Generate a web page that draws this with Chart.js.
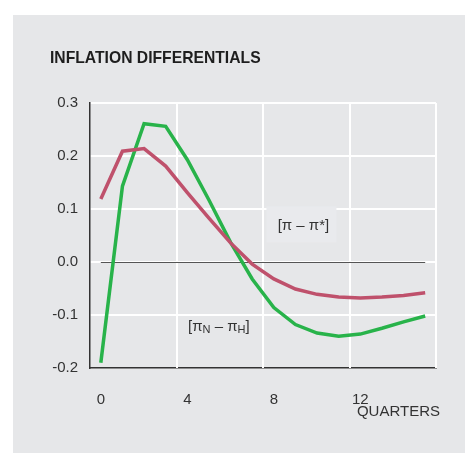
<!DOCTYPE html>
<html>
<head>
<meta charset="utf-8">
<script src="https://cdn.jsdelivr.net/npm/chart.js@4"></script>
<style>
  html, body { margin: 0; padding: 0; background: #ffffff; }
  canvas { display: block; }
</style>
</head>
<body>
<canvas id="chart" width="465" height="453"></canvas>
<script>
  // quarters after the shock
  const quarters = [0, 1, 2, 3, 4, 5, 6, 7, 8, 9, 10, 11, 12, 13, 14, 15];
  // [pi - pi*]
  const piDiff = [0.119, 0.209, 0.214, 0.181, 0.131, 0.083, 0.036, -0.004, -0.032, -0.051, -0.061, -0.066, -0.068, -0.066, -0.063, -0.058];
  // [pi_N - pi_H]
  const piNH = [-0.19, 0.143, 0.261, 0.256, 0.193, 0.117, 0.037, -0.032, -0.086, -0.118, -0.134, -0.14, -0.136, -0.125, -0.113, -0.102];
  const xTicks = [0, 4, 8, 12];
  const xGrid = [3.5, 7.5, 11.5, 15.5];

  const FONT = "'Liberation Sans', Arial, sans-serif";

  function toPoints(values) {
    return values.map((v, i) => ({ x: quarters[i], y: v }));
  }

  // gray panel, vertical grid, zero line, label box
  const decorations = {
    id: 'decorations',
    beforeDraw(chart) {
      const ctx = chart.ctx;
      ctx.save();
      ctx.fillStyle = '#e6e7e9';
      ctx.fillRect(13, 15, chart.width - 13, chart.height - 15);
      ctx.restore();
    },
    beforeDatasetsDraw(chart) {
      const ctx = chart.ctx;
      const x = chart.scales.x, y = chart.scales.y;
      const area = chart.chartArea;
      ctx.save();
      ctx.strokeStyle = '#ffffff';
      ctx.lineWidth = 2;
      xGrid.forEach(v => {
        const px = Math.round(x.getPixelForValue(v));
        ctx.beginPath();
        ctx.moveTo(px, area.top);
        ctx.lineTo(px, area.bottom);
        ctx.stroke();
      });
      // zero line from first to last quarter
      ctx.strokeStyle = '#555555';
      ctx.lineWidth = 1.2;
      const y0 = Math.round(y.getPixelForValue(0)) + 0.5;
      ctx.beginPath();
      ctx.moveTo(x.getPixelForValue(quarters[0]), y0);
      ctx.lineTo(x.getPixelForValue(quarters[quarters.length - 1]), y0);
      ctx.stroke();
      // light box behind the [pi - pi*] label
      const cx = x.getPixelForValue(9.37), cy = y.getPixelForValue(0.069);
      ctx.fillStyle = '#e9eaed';
      ctx.fillRect(cx - 37, cy - 19, 70, 36);
      ctx.restore();
    },
    afterDraw(chart) {
      const ctx = chart.ctx;
      const x = chart.scales.x, y = chart.scales.y;
      ctx.save();
      ctx.textBaseline = 'middle';
      // title
      ctx.fillStyle = '#1e1e1e';
      ctx.font = 'bold 15.7px ' + FONT;
      ctx.textAlign = 'left';
      ctx.fillText('INFLATION DIFFERENTIALS', 50, 59);
      // axis name
      ctx.fillStyle = '#333333';
      ctx.font = '15px ' + FONT;
      ctx.textAlign = 'right';
      ctx.fillText('QUARTERS', 440, 412);
      // series labels
      ctx.textAlign = 'center';
      ctx.fillText('[\u03c0 \u2013 \u03c0*]', x.getPixelForValue(9.37), y.getPixelForValue(0.069));
      let lx = 188;
      const ly = y.getPixelForValue(-0.123);
      ctx.textAlign = 'left';
      const parts = [
        ['[\u03c0', 15, 0], ['N', 11, 3], [' \u2013 \u03c0', 15, 0], ['H', 11, 3], [']', 15, 0]
      ];
      parts.forEach(p => {
        ctx.font = p[1] + 'px ' + FONT;
        ctx.fillText(p[0], lx, ly + p[2]);
        lx += ctx.measureText(p[0]).width;
      });
      ctx.restore();
    }
  };

  new Chart(document.getElementById('chart'), {
    type: 'line',
    data: {
      datasets: [
        {
          label: '[\u03c0 - \u03c0*]',
          data: toPoints(piDiff),
          borderColor: '#bf516c',
          borderWidth: 3.5,
          pointRadius: 0,
          tension: 0
        },
        {
          label: '[\u03c0N - \u03c0H]',
          data: toPoints(piNH),
          borderColor: '#28b34a',
          borderWidth: 3.5,
          pointRadius: 0,
          tension: 0
        }
      ]
    },
    options: {
      responsive: false,
      animation: false,
      layout: { padding: { top: 103, right: 29, left: 0, bottom: 0 } },
      plugins: {
        legend: { display: false },
        tooltip: { enabled: false }
      },
      scales: {
        x: {
          type: 'linear',
          min: -0.5,
          max: 15.5,
          afterBuildTicks(scale) {
            scale.ticks = xTicks.map(v => ({ value: v }));
          },
          afterFit(scale) { scale.height = 85; },
          grid: { display: false },
          border: { display: true, color: '#333333', width: 1.5 },
          ticks: {
            color: '#333333',
            font: { family: FONT, size: 15 },
            padding: 15,
            maxRotation: 0,
            autoSkip: false
          }
        },
        y: {
          min: -0.2,
          max: 0.3,
          afterFit(scale) { scale.width = 90; },
          grid: {
            drawTicks: false,
            lineWidth: 2,
            color: c => (c.tick && Math.abs(c.tick.value + 0.2) < 1e-9) ? 'rgba(0,0,0,0)' : '#ffffff'
          },
          border: { display: true, color: '#333333', width: 1.5 },
          ticks: {
            stepSize: 0.1,
            color: '#333333',
            font: { family: FONT, size: 15 },
            padding: 12,
            callback: v => Math.abs(v) < 1e-9 ? '0.0' : v.toFixed(1)
          }
        }
      }
    },
    plugins: [decorations]
  });
</script>
</body>
</html>
